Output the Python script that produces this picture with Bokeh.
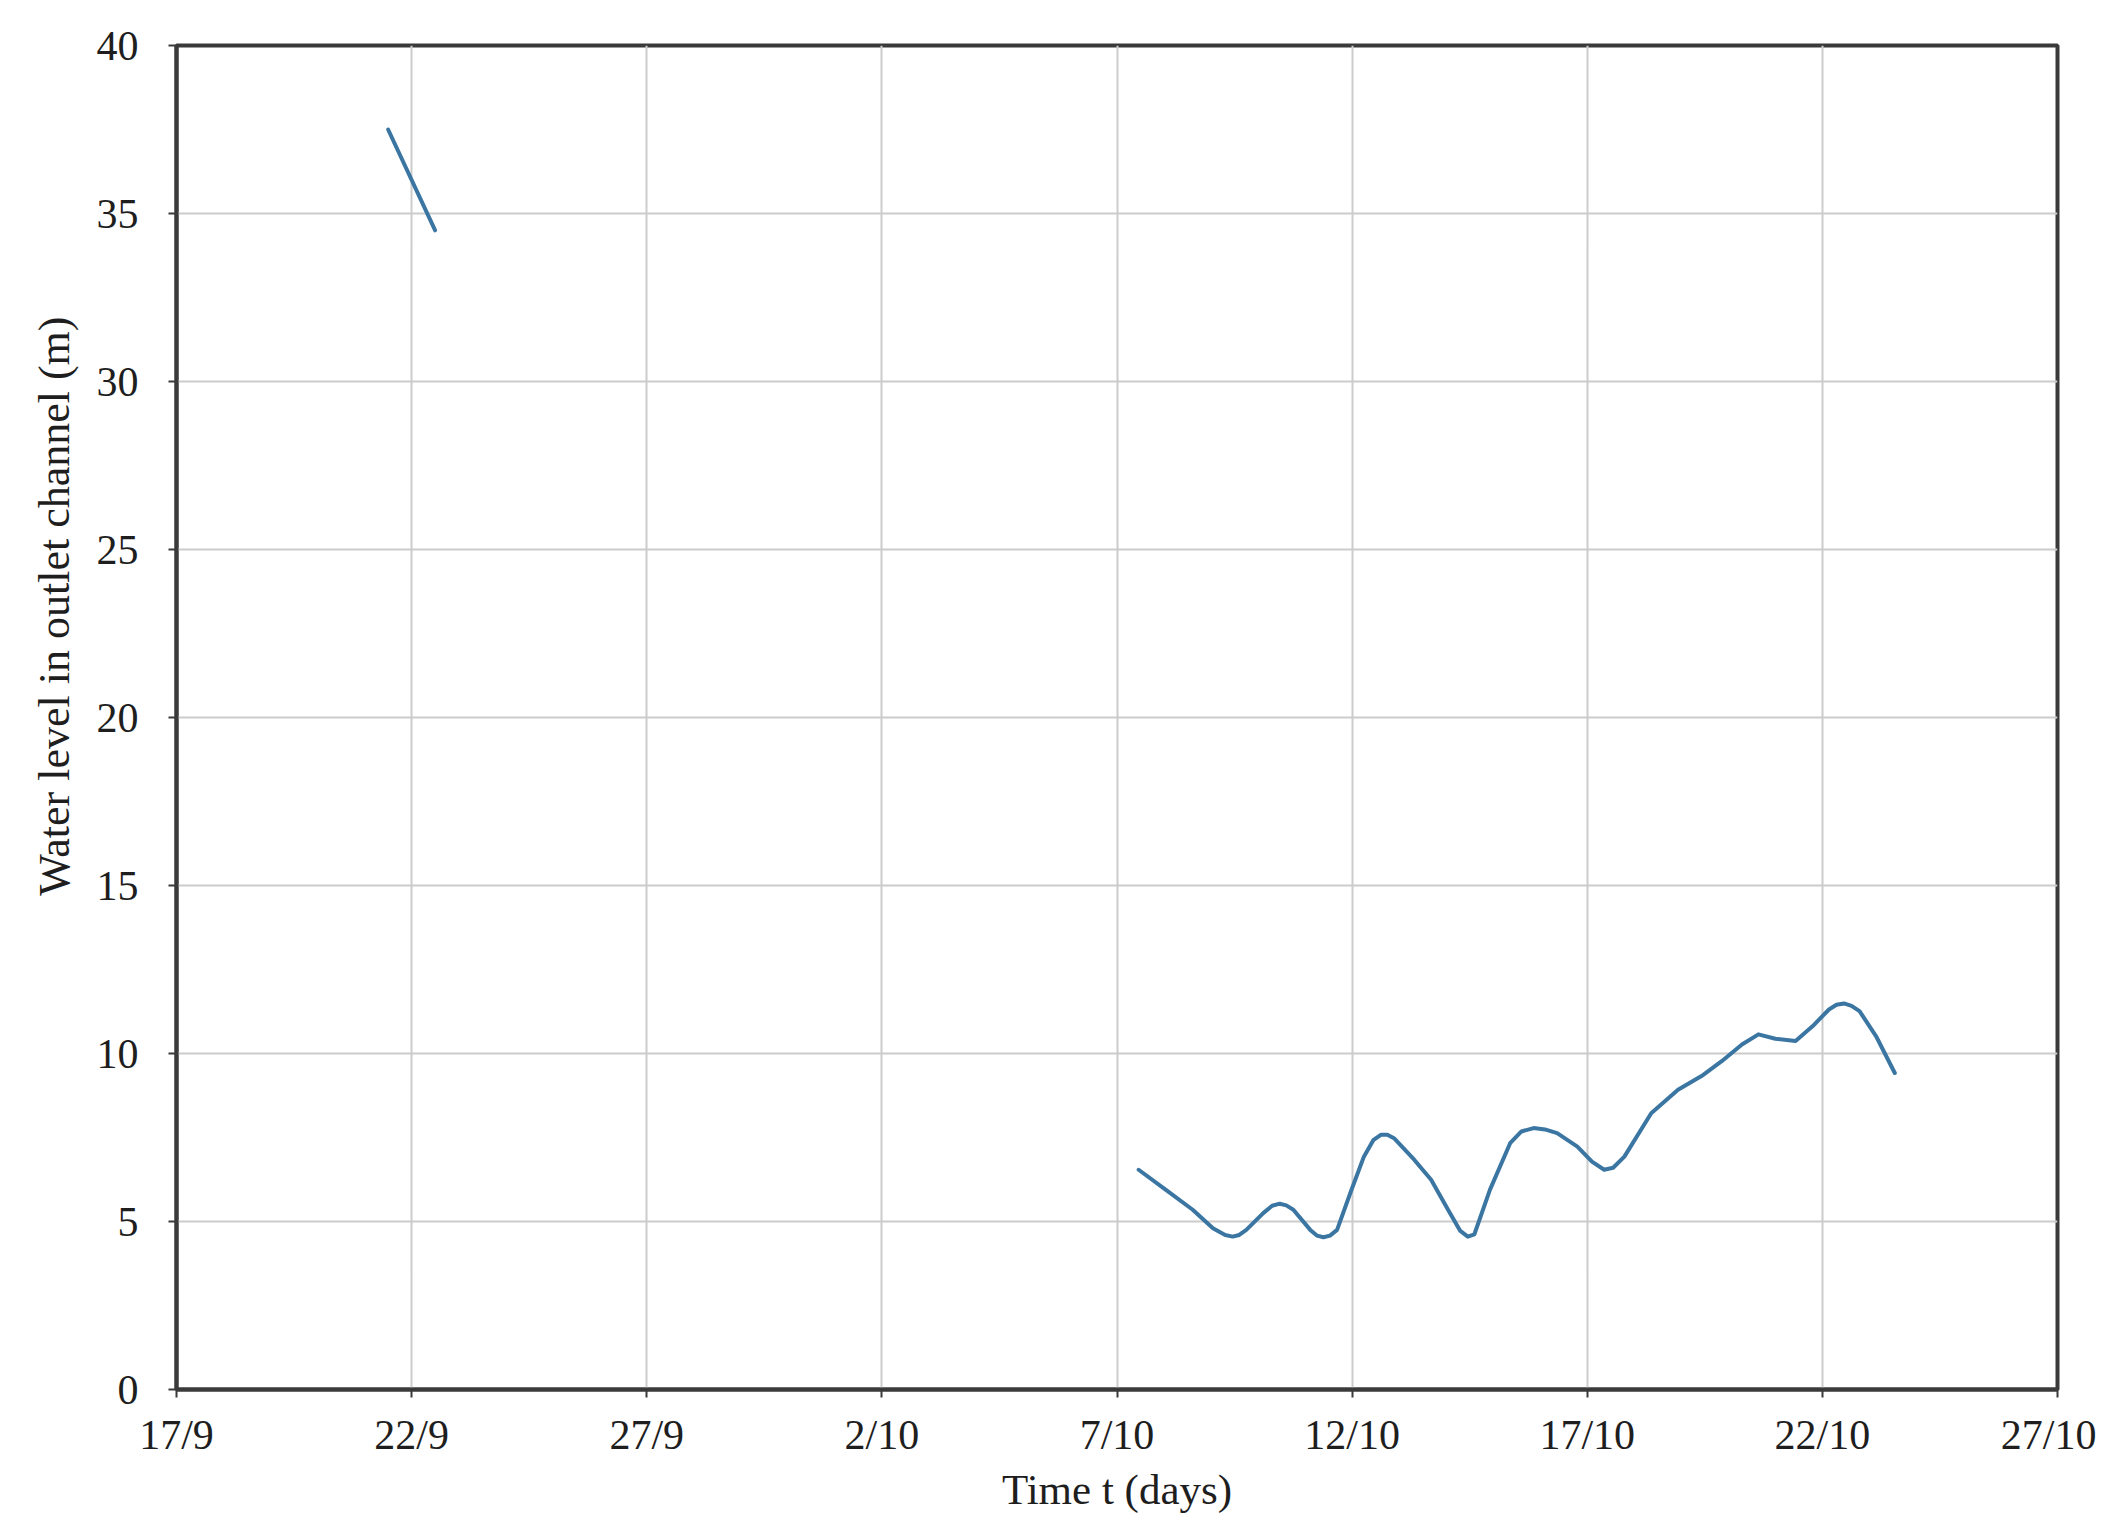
from bokeh.plotting import figure
from bokeh.models import Range1d, FixedTicker, Title
from bokeh.embed import file_html
from bokeh.resources import INLINE

# Days since 17/9
x_ticks = [0, 5, 10, 15, 20, 25, 30, 35, 40]
x_tick_labels = ["17/9", "22/9", "27/9", "2/10", "7/10", "12/10", "17/10", "22/10", "27/10"]
y_ticks = [0, 5, 10, 15, 20, 25, 30, 35, 40]

seg1_day = [4.5, 5.5]
seg1_level = [37.5, 34.5]

seg2_day = [20.46, 21.04, 21.61, 22.04, 22.3, 22.46, 22.6, 22.75, 23.11, 23.3, 23.46, 23.6, 23.75, 24.11,
            24.25, 24.39, 24.53, 24.68, 24.96, 25.25, 25.45, 25.61, 25.75, 25.89, 26.32, 26.68, 27.04, 27.3, 27.46,
            27.6, 27.93, 28.36, 28.6, 28.86, 29.1, 29.36, 29.79, 30.1, 30.36, 30.55, 30.79, 31.36, 31.93, 32.43,
            32.86, 33.29, 33.64, 34.0, 34.43, 34.79, 35.14, 35.3, 35.46, 35.62, 35.79, 36.14, 36.54]
seg2_level = [6.54, 5.94, 5.35, 4.80, 4.6, 4.55, 4.6, 4.75, 5.25, 5.47, 5.53, 5.48, 5.35, 4.75,
              4.58, 4.53, 4.58, 4.75, 5.84, 6.93, 7.42, 7.58, 7.58, 7.48, 6.84, 6.24, 5.35, 4.72, 4.55,
              4.62, 5.94, 7.33, 7.68, 7.78, 7.74, 7.63, 7.23, 6.78, 6.54, 6.6, 6.93, 8.22, 8.92, 9.33,
              9.77, 10.27, 10.57, 10.44, 10.37, 10.81, 11.31, 11.45, 11.49, 11.42, 11.26, 10.52, 9.42]

FONT = "Liberation Serif"
DARK = "#3a3a3a"
TXT = "#1e1e1e"

p = figure(width=2096, height=1519, output_backend="svg", toolbar_location=None,
           x_range=Range1d(0, 40), y_range=Range1d(0, 40),
           min_border_left=176, min_border_right=39, min_border_top=45, min_border_bottom=130)

p.line(seg1_day, seg1_level, line_color="#3b76a3", line_width=4, line_join="round", line_cap="round")
p.line(seg2_day, seg2_level, line_color="#3b76a3", line_width=4, line_join="round", line_cap="round")

p.xaxis.ticker = FixedTicker(ticks=x_ticks)
p.yaxis.ticker = FixedTicker(ticks=y_ticks)
p.xaxis.major_label_overrides = {t: l for t, l in zip(x_ticks, x_tick_labels)}

for ax in (p.xaxis[0], p.yaxis[0]):
    ax.axis_line_color = DARK
    ax.axis_line_width = 4
    ax.major_tick_line_color = DARK
    ax.major_tick_line_width = 2
    ax.major_tick_out = 8
    ax.major_tick_in = 0
    ax.minor_tick_line_color = None
    ax.major_label_text_font = FONT
    ax.major_label_text_font_size = "42px"
    ax.major_label_text_color = TXT
    ax.axis_label_text_font = FONT
    ax.axis_label_text_font_size = "43px"
    ax.axis_label_text_font_style = "normal"
    ax.axis_label_text_color = TXT

p.xaxis.axis_label = "Time t (days)"
p.xaxis.major_label_standoff = 14
p.xaxis.axis_label_standoff = 5
p.yaxis.major_label_standoff = 30

p.add_layout(Title(text="Water level in outlet channel (m)", align="right", offset=271,
                   text_font=FONT, text_font_size="44px", text_font_style="normal",
                   text_color=TXT, standoff=30), "left")

p.grid.grid_line_color = "#cccccc"
p.grid.grid_line_width = 2

p.outline_line_color = DARK
p.outline_line_width = 4
p.outline_line_alpha = 1.0

open("out.html", "w").write(file_html(p, INLINE))
